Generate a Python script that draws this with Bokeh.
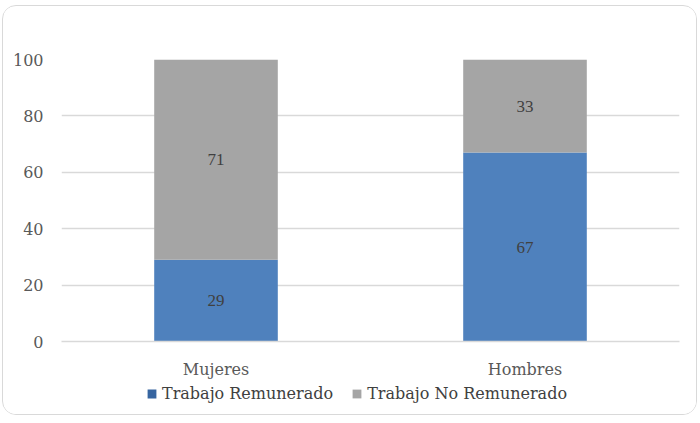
from bokeh.plotting import figure
from bokeh.layouts import column
from bokeh.models import ColumnDataSource, Legend, LegendItem, LabelSet, FactorRange, Range1d
from bokeh.embed import file_html
from bokeh.resources import INLINE

categories = ["Mujeres", "Hombres"]
remunerado = [29, 67]
no_remunerado = [71, 33]
series = ["Trabajo Remunerado", "Trabajo No Remunerado"]
y_ticks = [0, 20, 40, 60, 80, 100]

FONT = "DejaVu Serif"
BLUE = "#4F81BD"
GRAY = "#A5A5A5"
LEG_BLUE = "#3665A0"

src = ColumnDataSource(dict(
    cat=categories,
    rem=remunerado,
    norem=no_remunerado,
    rem_mid=[v / 2 for v in remunerado],
    norem_mid=[r + n / 2 for r, n in zip(remunerado, no_remunerado)],
    rem_txt=[str(v) for v in remunerado],
    norem_txt=[str(v) for v in no_remunerado],
))

p = figure(x_range=FactorRange(*categories, range_padding=0), y_range=Range1d(0, 100),
           width=693, height=375, output_backend="svg", toolbar_location=None,
           min_border_left=58, min_border_right=17, min_border_top=53, min_border_bottom=36)
p.outline_line_color = None
p.background_fill_color = "white"
p.border_fill_color = "white"

r = p.vbar_stack(["rem", "norem"], x="cat", width=0.40, source=src,
                 color=[BLUE, GRAY], line_color=None)

for ycol, tcol in (("rem_mid", "rem_txt"), ("norem_mid", "norem_txt")):
    p.add_layout(LabelSet(x="cat", y=ycol, text=tcol, source=src, text_align="center",
                          text_baseline="middle", text_font=FONT, text_font_size="17px",
                          text_color="#404040"))

p.xgrid.grid_line_color = None
p.ygrid.grid_line_color = "#d9d9d9"
p.ygrid.grid_line_width = 1.3
p.yaxis.ticker = y_ticks
p.yaxis.axis_line_color = None
p.yaxis.major_tick_line_color = None
p.yaxis.minor_tick_line_color = None
p.yaxis.major_label_text_font = FONT
p.yaxis.major_label_text_font_size = "16px"
p.yaxis.major_label_text_color = "#595959"
p.yaxis.major_label_standoff = 12

p.xaxis.axis_line_color = "#d9d9d9"
p.xaxis.axis_line_width = 1.3
p.xaxis.major_tick_line_color = None
p.xaxis.minor_tick_line_color = None
p.xaxis.major_label_text_font = FONT
p.xaxis.major_label_text_font_size = "16px"
p.xaxis.major_label_text_color = "#595959"
p.xaxis.major_label_standoff = 12

# legend strip below the chart (legend swatches only; their bars sit outside the visible range)
leg = figure(width=693, height=33, output_backend="svg", toolbar_location=None,
             x_axis_type=None, y_axis_type=None, min_border=0,
             x_range=Range1d(0, 1), y_range=Range1d(0, 1))
leg.outline_line_color = None
leg.xgrid.grid_line_color = None
leg.ygrid.grid_line_color = None
leg.border_fill_color = "white"
swatch = ColumnDataSource(dict(x=[-5], top=[-5]))
d1 = leg.vbar(x="x", top="top", width=1, source=swatch, color=LEG_BLUE, line_color=None)
d2 = leg.vbar(x="x", top="top", width=1, source=swatch, color=GRAY, line_color=None)
legend = Legend(items=[LegendItem(label=series[0], renderers=[d1]),
                       LegendItem(label=series[1], renderers=[d2])],
                orientation="horizontal", location=(85, 11),
                label_text_font=FONT, label_text_font_size="16px", label_text_color="#404040",
                glyph_width=11, glyph_height=11, label_standoff=5, spacing=18,
                padding=0, margin=0, border_line_color=None, background_fill_alpha=0)
leg.add_layout(legend, "center")

layout = column(p, leg, spacing=0, margin=(5, 0, 0, 2),
                styles={"border": "1px solid #d9d9d9", "border-radius": "14px",
                        "overflow": "hidden", "background": "white"})

open("out.html", "w").write(file_html(layout, INLINE))
